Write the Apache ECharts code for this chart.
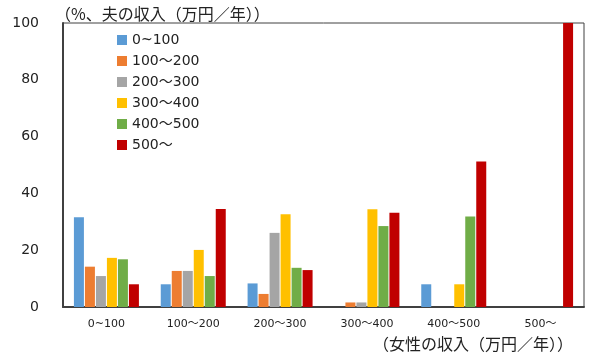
<!DOCTYPE html>
<html><head><meta charset="utf-8">
<script src="https://cdn.jsdelivr.net/npm/echarts@6/dist/echarts.min.js"></script>
<style>html,body{margin:0;padding:0;background:#fff}#c{width:600px;height:361px}</style>
</head><body><div id="c"></div>
<script>
const categories = ['0~100', '100～200', '200～300', '300～400', '400～500', '500～'];
const seriesNames = ['0~100', '100～200', '200～300', '300～400', '400～500', '500～'];
const colors = ['#5B9BD5', '#ED7D31', '#A5A5A5', '#FFC000', '#70AD47', '#C00000'];
const s0_100   = [31.6, 8.0, 8.3, 0, 8.0, 0];
const s100_200 = [14.2, 12.7, 4.6, 1.6, 0, 0];
const s200_300 = [10.9, 12.7, 26.1, 1.6, 0, 0];
const s300_400 = [17.3, 20.1, 32.7, 34.4, 8.0, 0];
const s400_500 = [16.8, 10.9, 13.8, 28.5, 31.9, 0];
const s500     = [8.0, 34.5, 13.0, 33.2, 51.2, 100];
const yTicks = [0, 20, 40, 60, 80, 100];
const seriesData = [s0_100, s100_200, s200_300, s300_400, s400_500, s500];

const chart = echarts.init(document.getElementById('c'));
chart.setOption({
  animation: false,
  color: colors,
  grid: { left: 63, right: 16, top: 23, bottom: 54, show: true, borderColor: '#404040', borderWidth: 1 },
  legend: {
    orient: 'vertical', left: 112, top: 28, itemWidth: 10, itemHeight: 10, itemGap: 7,
    icon: 'rect', data: seriesNames,
    textStyle: { fontFamily: 'DejaVu Sans, Noto Sans CJK JP', fontSize: 14, color: '#222', lineHeight: 14 }
  },
  xAxis: {
    type: 'category', data: categories,
    axisLine: { lineStyle: { color: '#404040', width: 2 } },
    axisTick: { show: false },
    axisLabel: { fontFamily: 'DejaVu Sans, Noto Sans CJK JP', fontSize: 11, color: '#222', margin: 12 },
    name: '（女性の収入（万円／年））', nameLocation: 'end', nameGap: -11,
    nameTextStyle: { fontFamily: 'Noto Sans CJK JP', fontSize: 16, color: '#222', align: 'right', verticalAlign: 'top', padding: [29, 0, 0, 0] }
  },
  yAxis: {
    type: 'value', min: yTicks[0], max: yTicks[yTicks.length - 1], interval: 20,
    splitLine: { show: false },
    axisLine: { show: true, lineStyle: { color: '#404040', width: 2 } },
    axisTick: { show: false },
    axisLabel: { fontFamily: 'DejaVu Sans', fontSize: 14, color: '#222', margin: 24 },
    name: '（%、夫の収入（万円／年））', nameLocation: 'end', nameGap: 1,
    nameTextStyle: { fontFamily: 'Noto Sans CJK JP', fontSize: 16, color: '#222', align: 'left', padding: [0, 0, 0, -8] }
  },
  series: seriesNames.map((n, i) => ({
    name: n, type: 'bar', data: seriesData[i],
    barWidth: 10, barGap: '10%', barCategoryGap: '25%'
  }))
});
</script></body></html>
